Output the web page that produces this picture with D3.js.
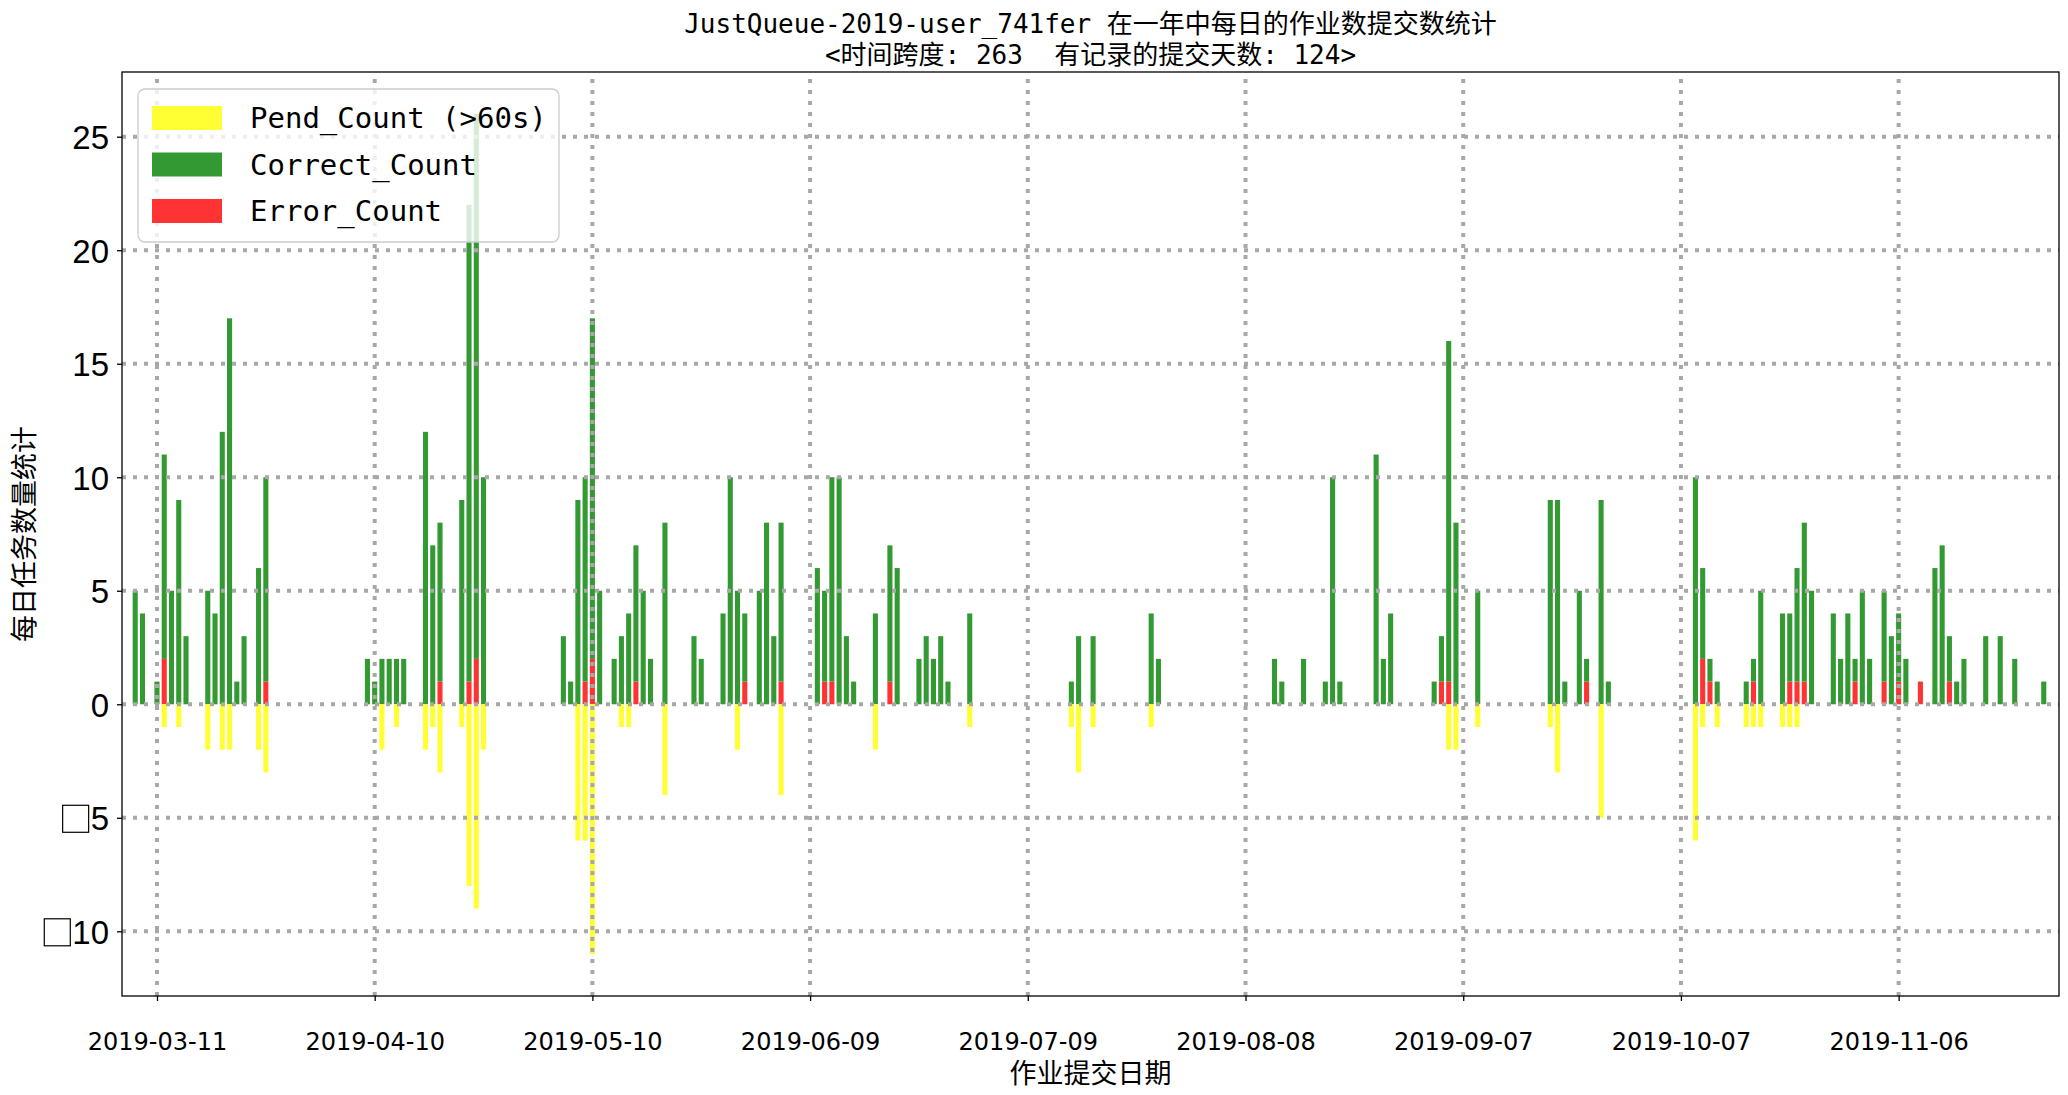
<!DOCTYPE html>
<html>
<head>
<meta charset="utf-8">
<script src="https://cdn.jsdelivr.net/npm/d3@7"></script>
<style>
  body { margin: 0; background: #fff; }
</style>
</head>
<body>
<svg id="chart" width="2068" height="1095"></svg>
<script>
// --- Data ---
const dates = [
  "03-08","03-09","03-11","03-12","03-13","03-14","03-15","03-18","03-19","03-20","03-21","03-22","03-23","03-25","03-26",
  "04-09","04-10","04-11","04-12","04-13","04-14","04-17","04-18","04-19","04-22","04-23","04-24","04-25",
  "05-06","05-07","05-08","05-09","05-10","05-11","05-13","05-14","05-15","05-16","05-17","05-18","05-20",
  "05-24","05-25","05-28","05-29","05-30","05-31","06-02","06-03",
  "06-04","06-05","06-10","06-11","06-12","06-13","06-14","06-15","06-18","06-20","06-21","06-24","06-25","06-26","06-27","06-28","07-01",
  "07-15","07-16","07-18","07-26","07-27",
  "08-12","08-13","08-16","08-19","08-20","08-21","08-26","08-27","08-28",
  "09-03","09-04","09-05","09-06","09-09","09-19","09-20","09-21","09-23","09-24","09-26","09-27",
  "10-09","10-10","10-11","10-12",
  "10-16","10-17","10-18","10-21","10-22","10-23","10-24","10-25","10-28","10-29","10-30","10-31",
  "11-01","11-02","11-04","11-05","11-06","11-07","11-09","11-11","11-12","11-13","11-14","11-15","11-18","11-20","11-22","11-26"
];
const correctCount = [
  5,4,1,9,5,9,3,5,4,12,17,1,3,6,9,
  2,1,2,2,2,2,12,7,7,9,21,24,10,
  3,1,9,9,15,5,2,3,4,6,5,2,8,
  3,2,4,10,5,3,5,8,
  3,7,6,4,9,10,3,1,4,6,6,2,3,2,3,1,4,
  1,3,3,4,2,
  2,1,2,1,10,1,11,2,4,
  1,2,15,8,5,9,9,1,5,1,9,1,
  10,4,1,1,
  1,1,5,4,3,5,7,5,4,2,4,1,
  5,2,4,3,3,2,0,6,7,2,1,2,3,3,2,1
];
const errorCount = [
  0,0,0,2,0,0,0,0,0,0,0,0,0,0,1,
  0,0,0,0,0,0,0,0,1,0,1,2,0,
  0,0,0,1,2,0,0,0,0,1,0,0,0,
  0,0,0,0,0,1,0,0,
  0,1,0,1,1,0,0,0,0,1,0,0,0,0,0,0,0,
  0,0,0,0,0,
  0,0,0,0,0,0,0,0,0,
  0,1,1,0,0,0,0,0,0,1,0,0,
  0,2,1,0,
  0,1,0,0,1,1,1,0,0,0,0,1,
  0,0,1,0,1,0,1,0,0,1,0,0,0,0,0,0
];
const pendCount = [
  0,0,0,1,0,1,0,2,0,2,2,0,0,2,3,
  0,0,2,0,1,0,2,1,3,1,8,9,2,
  0,0,6,6,11,0,0,1,1,0,0,0,4,
  0,0,0,0,2,0,0,0,
  0,4,0,0,0,0,0,0,2,0,0,0,0,0,0,0,1,
  1,3,1,1,0,
  0,0,0,0,0,0,0,0,0,
  0,0,2,2,1,1,3,0,0,0,5,0,
  6,1,0,1,
  1,1,1,1,1,1,0,0,0,0,0,0,
  0,0,0,0,0,0,0,0,0,0,0,0,0,0,0,0
];
const xTickDates = ["2019-03-11","2019-04-10","2019-05-10","2019-06-09","2019-07-09",
                    "2019-08-08","2019-09-07","2019-10-07","2019-11-06"];
const yTicks = [-10, -5, 0, 5, 10, 15, 20, 25];
const titleLines = ["JustQueue-2019-user_741fer 在一年中每日的作业数提交数统计",
                    "<时间跨度: 263  有记录的提交天数: 124>"];
const legendLabels = ["Pend_Count (>60s)", "Correct_Count", "Error_Count"];
const xLabel = "作业提交日期";
const yLabel = "每日任务数量统计";

// --- Layout ---
const W = 2068, H = 1095;
const plot = { left: 122, right: 2059, top: 72, bottom: 996 };
const colors = { pend: "#ffff33", correct: "#339933", error: "#ff3333" };
const gridColor = "#a8a8a8";
const monoFont = "'DejaVu Sans Mono', 'Noto Sans CJK SC', monospace";
const cjkFont = "'Noto Sans CJK SC', sans-serif";

const parse = d3.utcParse("%Y-%m-%d");
const rows = dates.map((d, i) => ({
  date: parse("2019-" + d),
  correct: correctCount[i],
  error: errorCount[i],
  pend: pendCount[i]
}));

const DAY = 864e5;
const first = rows[0].date, last = rows[rows.length - 1].date;
const x = d3.scaleUtc()
  .domain([new Date(+first - 1.82 * DAY), new Date(+last + 2.1 * DAY)])
  .range([plot.left, plot.right]);
const y = d3.scaleLinear()
  .domain([-12.85, 27.85])
  .range([plot.bottom, plot.top]);

const barW = (x(new Date(+first + DAY)) - x(first)) * 0.7;

const svg = d3.select("#chart");
svg.append("rect").attr("width", W).attr("height", H).attr("fill", "#fff");

// --- Bars ---
const bars = svg.append("g");
// Error at the bottom
bars.selectAll("rect.err")
  .data(rows.filter((d) => d.error > 0))
  .join("rect")
  .attr("x", (d) => x(d.date) - barW / 2)
  .attr("width", barW)
  .attr("y", (d) => y(d.error))
  .attr("height", (d) => y(0) - y(d.error))
  .attr("fill", colors.error);
// Correct stacked on error
bars.selectAll("rect.ok")
  .data(rows.filter((d) => d.correct > 0))
  .join("rect")
  .attr("x", (d) => x(d.date) - barW / 2)
  .attr("width", barW)
  .attr("y", (d) => y(d.error + d.correct))
  .attr("height", (d) => y(d.error) - y(d.error + d.correct))
  .attr("fill", colors.correct);
// Pending drawn downward
bars.selectAll("rect.pend")
  .data(rows.filter((d) => d.pend > 0))
  .join("rect")
  .attr("x", (d) => x(d.date) - barW / 2)
  .attr("width", barW)
  .attr("y", y(0))
  .attr("height", (d) => y(-d.pend) - y(0))
  .attr("fill", colors.pend);

// --- Grid (drawn over the bars, like matplotlib) ---
const xTicks = xTickDates.map(parse);
const grid = svg.append("g")
  .attr("stroke", gridColor)
  .attr("stroke-width", 4)
  .attr("stroke-dasharray", "4,7");
grid.selectAll("line.v")
  .data(xTicks)
  .join("line")
  .attr("x1", (d) => x(d)).attr("x2", (d) => x(d))
  .attr("y1", plot.bottom).attr("y2", plot.top);
grid.selectAll("line.h")
  .data(yTicks)
  .join("line")
  .attr("x1", plot.left).attr("x2", plot.right)
  .attr("y1", (d) => y(d)).attr("y2", (d) => y(d));

// --- Axes ---
const xAxis = svg.append("g")
  .attr("transform", `translate(0,${plot.bottom})`)
  .call(d3.axisBottom(x).tickValues(xTicks).tickFormat(d3.utcFormat("%Y-%m-%d"))
    .tickSize(5).tickPadding(32).tickSizeOuter(0));
xAxis.select(".domain").remove();
xAxis.selectAll("line").attr("stroke", "#000").attr("stroke-width", 1.3);
xAxis.selectAll("text")
  .attr("font-family", "'DejaVu Sans', sans-serif")
  .attr("font-size", 24)
  .attr("fill", "#000");

const yAxis = svg.append("g")
  .attr("transform", `translate(${plot.left},0)`)
  .call(d3.axisLeft(y).tickValues(yTicks).tickFormat((d) => Math.abs(d)).tickSize(5).tickSizeOuter(0));
yAxis.select(".domain").remove();
yAxis.selectAll("line").attr("stroke", "#000").attr("stroke-width", 1.3);
yAxis.selectAll(".tick text")
  .attr("x", -13)
  .attr("dy", "0.36em")
  .attr("font-family", "'Liberation Sans', sans-serif")
  .attr("font-size", 33)
  .attr("fill", "#000");
// the negative sign shows as a missing-glyph box in the original
yAxis.selectAll(".tick").filter((d) => d < 0).each(function () {
  const tick = d3.select(this);
  const w = tick.select("text").node().getComputedTextLength();
  tick.append("rect")
    .attr("x", -13 - w - 28).attr("y", -13)
    .attr("width", 26).attr("height", 27)
    .attr("fill", "none").attr("stroke", "#000").attr("stroke-width", 1.2);
});

// frame
svg.append("rect")
  .attr("x", plot.left).attr("y", plot.top)
  .attr("width", plot.right - plot.left).attr("height", plot.bottom - plot.top)
  .attr("fill", "none").attr("stroke", "#000").attr("stroke-width", 1.3);

// --- Titles and axis labels ---
const cx = (plot.left + plot.right) / 2;
svg.append("g")
  .selectAll("text")
  .data(titleLines)
  .join("text")
  .attr("x", cx)
  .attr("y", (d, i) => 33 + i * 31)
  .attr("text-anchor", "middle")
  .attr("font-family", monoFont)
  .attr("font-size", 26)
  .attr("fill", "#000")
  .style("white-space", "pre")
  .text((d) => d);

svg.append("text")
  .attr("x", cx).attr("y", 1083)
  .attr("text-anchor", "middle")
  .attr("font-family", cjkFont)
  .attr("font-size", 27)
  .attr("fill", "#000")
  .text(xLabel);

svg.append("text")
  .attr("transform", `translate(34,${(plot.top + plot.bottom) / 2}) rotate(-90)`)
  .attr("text-anchor", "middle")
  .attr("font-family", cjkFont)
  .attr("font-size", 27)
  .attr("fill", "#000")
  .text(yLabel);

// --- Legend ---
const legend = svg.append("g");
legend.append("rect")
  .attr("x", 138).attr("y", 89).attr("width", 421).attr("height", 153)
  .attr("rx", 7).attr("ry", 7)
  .attr("fill", "#fff").attr("fill-opacity", 0.8)
  .attr("stroke", "#cccccc").attr("stroke-width", 1.3);
const legendColors = [colors.pend, colors.correct, colors.error];
const item = legend.selectAll("g.item")
  .data(legendLabels)
  .join("g")
  .attr("transform", (d, i) => `translate(0,${118 + i * 46.5})`);
item.append("rect")
  .attr("x", 152).attr("y", -12).attr("width", 70).attr("height", 24)
  .attr("fill", (d, i) => legendColors[i]);
item.append("text")
  .attr("x", 250).attr("dy", "0.36em")
  .attr("font-family", monoFont)
  .attr("font-size", 29)
  .attr("fill", "#000")
  .text((d) => d);
</script>
</body>
</html>
